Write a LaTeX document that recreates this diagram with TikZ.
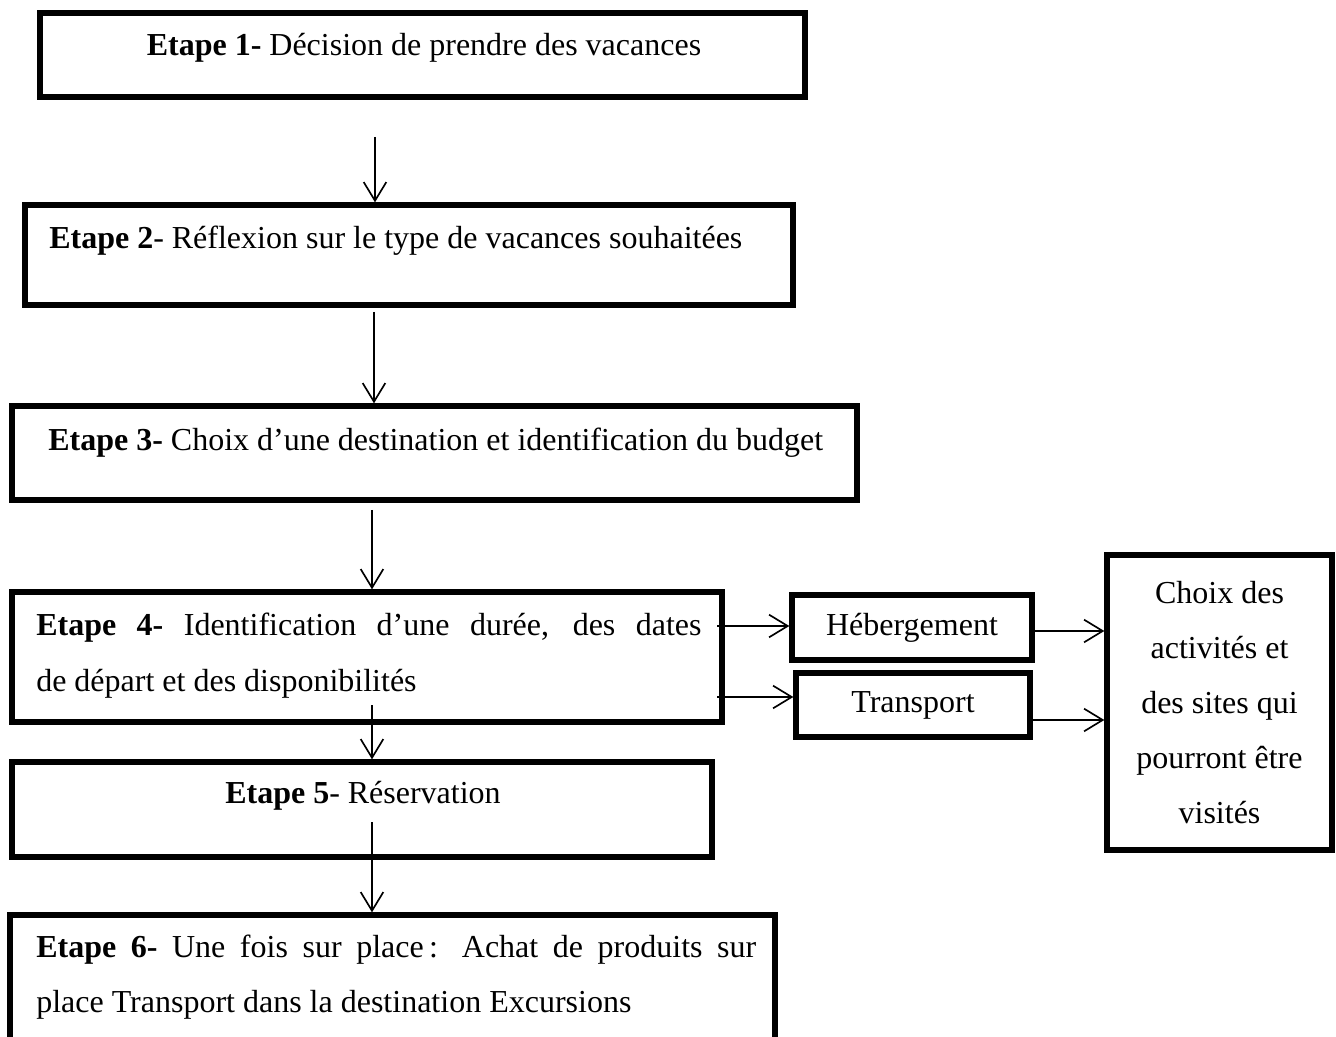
\documentclass[tikz,border=0pt]{standalone}
\usepackage{fontspec}
\setmainfont{Liberation Serif}
\usepackage{tikz}
\usetikzlibrary{arrows.meta,fit}

\begin{document}
\begin{tikzpicture}[x=0.75pt,y=0.75pt,yscale=-1,xscale=1,
  box/.style={draw, line width=4pt, inner sep=0pt},
  fnt/.style={font=\fontsize{24}{42}\selectfont},
  lbl/.style={fnt, inner sep=0.75pt},
  arr/.style={line width=1.25pt, -{Straight Barb[length=14pt,width=17pt]}}]
\path[use as bounding box, clip] (0,0) rectangle (1336,1037);

%Shape: Rectangle [etape 1]
\node [box, fit={(40,13) (805,97)}] (etape1) {};
%Shape: Rectangle [etape 2]
\node [box, fit={(25,205) (793,305)}] (etape2) {};
%Shape: Rectangle [etape 3]
\node [box, fit={(12,406) (857,500)}] (etape3) {};
%Shape: Rectangle [etape 4]
\node [box, fit={(12,592) (722,722)}] (etape4) {};
%Shape: Rectangle [etape 5]
\node [box, fit={(12,762) (712,857)}] (etape5) {};
%Shape: Rectangle [etape 6] -- runs past the bottom edge
\node [box, fit={(10,915) (775,1070)}] (etape6) {};
%Shape: Rectangle [hebergement]
\node [box, fnt, minimum width=180pt, minimum height=48.75pt] (heberg) at (912,627.5) {Hébergement};
%Shape: Rectangle [transport]
\node [box, fnt, minimum width=175.5pt, minimum height=48pt] (transp) at (913,705) {Transport};
%Shape: Rectangle [choix]
\node [box, font=\fontsize{24}{41.25}\selectfont, align=center, minimum width=168.75pt, minimum height=221.25pt] (choix) at (1219.5,702.5)
  {Choix des\\activités et\\des sites qui\\pourront être\\visités};

% Text Node
\node [lbl] (lbl1) at (424,48) {\textbf{Etape 1-} Décision de prendre des vacances};
% Text Node
\node [lbl, anchor=west] (lbl2) at (48,241) {\textbf{Etape 2}- Réflexion sur le type de vacances souhaitées};
% Text Node
\node [lbl, anchor=west] (lbl3) at (47,443) {\textbf{Etape 3-} Choix d’une destination et identification du budget};
% Text Node
\node [lbl, anchor=north west, text width=499pt, align=justify] (lbl4) at (35,612)
  {\textbf{Etape 4-} Identification d’une durée, des dates\linebreak de départ et des disponibilités};
% Text Node
\node [lbl] (lbl5) at (363,796) {\textbf{Etape 5}- Réservation};
% Text Node
\node [lbl, anchor=north west, font=\fontsize{24}{41.25}\selectfont, text width=540pt, align=justify] (lbl6) at (35,934)
  {\textbf{Etape 6-} Une fois sur place\,: Achat de produits sur\linebreak place Transport dans la destination Excursions};

%Straight Lines [down arrows]
\coordinate (a1) at (375,137);
\coordinate (a2) at (374,312);
\coordinate (a3) at (372,510);
\coordinate (a4) at (372,705);
\coordinate (a5) at (372,822);
\draw [arr] (a1) -- (a1 |- etape2.north);
\draw [arr] (a2) -- (a2 |- etape3.north);
\draw [arr] (a3) -- (a3 |- etape4.north);
\draw [arr] (a4) -- (a4 |- etape5.north);
\draw [arr] (a5) -- (a5 |- etape6.north);

%Straight Lines [side arrows]
\coordinate (h1) at (717,626);
\coordinate (h2) at (717,697);
\coordinate (h3) at (1032,631);
\coordinate (h4) at (1030,720);
\draw [arr] (h1) -- (h1 -| heberg.west);
\draw [arr] (h2) -- (h2 -| transp.west);
\draw [arr] (h3) -- (h3 -| choix.west);
\draw [arr] (h4) -- (h4 -| choix.west);

\end{tikzpicture}
\end{document}
